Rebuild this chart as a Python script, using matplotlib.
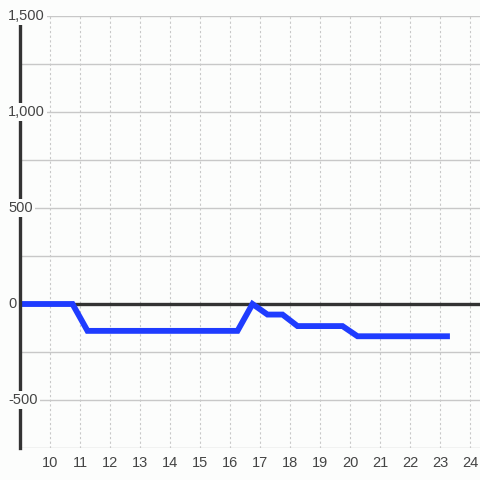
import matplotlib.pyplot as plt

plt.rcParams['font.family'] = ['Liberation Sans', 'DejaVu Sans']

hours = [9.0, 10.75, 11.25, 16.25, 16.75, 17.25, 17.75, 18.25, 19.75, 20.25, 23.33]
values = [0, 0, -140, -140, 0, -55, -55, -115, -115, -168, -168]
x_ticks = list(range(10, 25))
y_grid = [-750, -500, -250, 0, 250, 500, 750, 1000, 1250, 1500]
y_labels = [-500, 0, 500, 1000, 1500]

bg = '#fcfdfc'
fig = plt.figure(figsize=(4.8, 4.8), dpi=100, facecolor=bg)
ax = fig.add_axes([20 / 480, 32 / 480, 460 / 480, 432 / 480], facecolor=bg)

ax.set_xlim(9, 24.333)
ax.set_ylim(-750, 1500)

for v in y_grid:
    ax.axhline(v, color='#c8c8c8', lw=1, zorder=1)
for t in x_ticks:
    ax.axvline(t, color='#c8c8c8', lw=0.8, ls=(0, (2, 2.2)), zorder=1)

ax.axhline(0, color='#333333', lw=2.4, zorder=2)
ax.plot(hours, values, color='#1f3cff', lw=4.2, solid_capstyle='butt',
        solid_joinstyle='miter', zorder=3)

for s in ['top', 'right', 'bottom']:
    ax.spines[s].set_visible(False)
ax.spines['left'].set_color('#333333')
ax.spines['left'].set_linewidth(2.4)
ax.spines['left'].set_zorder(4)

ax.set_yticks([])
ax.set_xticks(x_ticks)
ax.tick_params(axis='x', length=0, pad=6, labelsize=10.5, labelcolor='#444444')

for v in y_labels:
    ax.text(-12 / 460, v, f'{v:,}', transform=ax.get_yaxis_transform(),
            ha='left', va='center', fontsize=10.5, color='#444444', zorder=5,
            bbox=dict(facecolor=bg, edgecolor='none', pad=1.5))

fig.savefig('out.png', dpi=100, facecolor=bg)
